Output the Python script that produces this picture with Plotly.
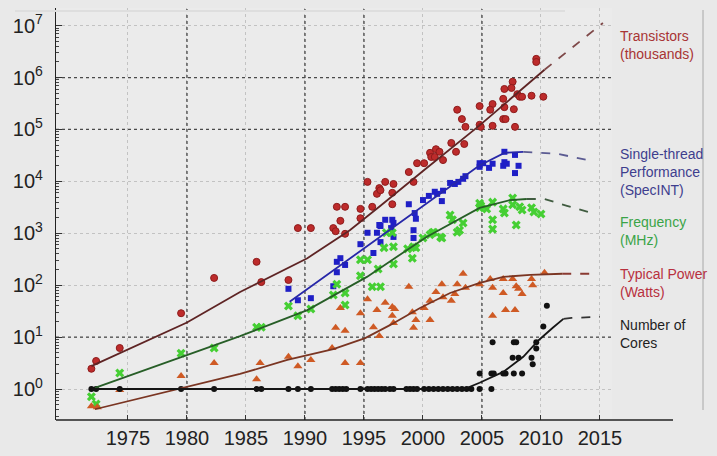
import numpy as np
import plotly.graph_objects as go

# ---------------- data (year, log10 of value) ----------------
trans_year = [1971.9, 1972.3, 1974.3, 1979.5, 1982.3, 1985.9, 1986.3, 1988.6, 1989.4, 1990.5,
              1992.4, 1992.6, 1992.7, 1993.4, 1993.0, 1993.4, 1994.7, 1994.7, 1995.3, 1995.7,
              1996.1, 1996.3, 1996.8, 1997.4, 1997.5, 1997.4, 1998.8, 1999.2, 1999.5, 2000.1,
              2000.6, 2001.1, 2000.7, 2001.0, 2001.4, 2001.7, 2002.4, 2002.8, 2002.9, 2003.3,
              2003.6, 2003.5, 2004.8, 2004.8, 2009.6, 2009.6, 2007.6, 2006.9, 2007.5, 2008.0,
              2008.2, 2008.4, 2009.2, 2010.2, 2006.8, 2005.9, 2006.9, 2005.7, 2007.7, 2006.8,
              2007.0, 2005.9, 2007.8, 2004.9, 1996.4]
trans_log10 = [0.39, 0.54, 0.79, 1.46, 2.14, 2.45, 2.06, 2.10, 3.10, 3.10,
               3.10, 3.04, 3.51, 3.51, 3.24, 2.99, 3.47, 3.29, 3.99, 3.51,
               3.76, 3.87, 3.99, 3.78, 3.95, 3.56, 4.18, 3.99, 4.35, 4.35,
               4.55, 4.62, 4.47, 4.47, 4.57, 4.41, 4.74, 4.57, 5.38, 5.20,
               5.05, 4.72, 5.45, 5.09, 6.36, 6.30, 5.92, 5.78, 5.80, 5.68,
               5.63, 5.63, 5.65, 5.63, 5.59, 5.49, 5.43, 5.38, 5.39, 5.20,
               5.20, 5.07, 5.05, 5.05, 3.83]

perf_year = [1988.6, 1989.4, 1990.5, 1992.4, 1992.7, 1992.7, 1993.0, 1993.4, 1994.7, 1995.3,
             1995.8, 1996.1, 1996.3, 1996.4, 1996.4, 1996.8, 1997.4, 1997.5, 1997.3, 1997.5,
             1999.2, 1999.2, 1999.3, 1999.4, 1998.8, 2000.0, 2000.5, 2001.0, 2001.2, 2001.7,
             2001.6, 2002.3, 2002.7, 2003.0, 2003.4, 2003.6, 2004.8, 2004.8, 2005.1, 2005.9,
             2005.6, 2006.8, 2006.9, 2006.9, 2007.1, 2007.8, 2008.1, 2007.8]
perf_log10 = [1.93, 1.71, 1.75, 1.98, 2.25, 2.45, 2.52, 2.39, 2.79, 3.01,
              2.62, 3.01, 3.16, 2.83, 3.14, 3.26, 3.26, 3.20, 3.10, 2.93,
              3.06, 2.91, 3.39, 3.28, 3.56, 3.64, 3.72, 3.80, 3.76, 3.82,
              3.62, 3.97, 3.95, 3.99, 4.05, 4.10, 4.28, 4.35, 4.35, 4.34,
              4.26, 4.30, 4.57, 4.37, 4.34, 4.51, 4.30, 4.16]

freq_year = [1971.9, 1972.3, 1974.3, 1979.5, 1982.3, 1985.9, 1986.3, 1988.6, 1989.4, 1990.5,
             1992.4, 1992.7, 1993.4, 1993.4, 1994.7, 1995.3, 1994.7, 1995.7, 1996.4, 1996.2,
             1996.7, 1997.5, 1997.5, 1998.7, 1999.1, 1999.2, 2000.0, 2000.8, 2001.5, 2002.9,
             1996.9, 1997.4, 1999.4, 2000.6, 2000.9, 2001.6, 2002.3, 2002.5, 2003.1, 2003.4,
             2004.8, 2004.8, 2004.9, 2005.4, 2005.9, 2006.8, 2006.9, 2007.6, 2007.6, 2008.2,
             2008.4, 2009.2, 2009.4, 2010.0, 2005.9, 2005.9, 2007.9]
freq_log10 = [-0.15, -0.29, 0.31, 0.69, 0.79, 1.19, 1.19, 1.60, 1.41, 1.54,
              1.81, 2.02, 1.85, 1.62, 2.49, 2.49, 2.18, 1.97, 1.97, 2.31,
              2.72, 2.74, 2.41, 2.70, 2.52, 2.74, 2.91, 3.01, 2.93, 3.02,
              3.01, 3.01, 2.72, 2.97, 3.02, 2.91, 3.35, 3.26, 3.06, 3.20,
              3.58, 3.49, 3.53, 3.47, 3.60, 3.47, 3.39, 3.68, 3.55, 3.51,
              3.45, 3.49, 3.41, 3.37, 3.26, 3.08, 3.16]

power_year = [1971.9, 1972.4, 1974.3, 1979.5, 1982.3, 1985.9, 1986.2, 1988.6, 1989.4, 1990.5,
              1992.3, 1993.0, 1992.6, 1993.4, 1993.4, 1994.7, 1994.7, 1995.3, 1996.1, 1996.3,
              1996.8, 1997.4, 1997.6, 1997.4, 1997.5, 1995.8, 1998.8, 1999.1, 1999.4, 1999.2,
              2000.1, 2000.6, 2000.6, 2001.1, 2001.6, 2001.7, 2002.4, 2002.7, 2002.9, 2003.4,
              2003.6, 2004.8, 2005.7, 2005.9, 2006.8, 2006.8, 2007.6, 2007.9, 2008.1, 2008.4,
              2009.2, 2009.3, 2010.3, 2005.9, 2007.0, 2007.8]
power_log10 = [-0.33, -0.35, -0.02, 0.25, 0.50, 0.19, 0.50, 0.62, 0.44, 0.56,
               0.79, 1.56, 1.18, 1.12, 0.50, 0.50, 1.46, 1.73, 1.52, 1.02,
               1.66, 1.58, 1.54, 1.41, 1.27, 1.19, 1.97, 1.48, 1.33, 1.18,
               1.56, 1.33, 1.70, 1.87, 2.02, 1.77, 1.70, 1.83, 2.02, 2.22,
               1.95, 2.02, 2.12, 1.95, 2.12, 1.85, 2.12, 1.98, 1.93, 1.83,
               2.12, 2.00, 2.24, 1.41, 1.52, 1.52]

core_year = [1971.9, 1972.3, 1974.3, 1979.5, 1982.3, 1985.9, 1986.3, 1988.6, 1989.4, 1990.5,
             1992.3, 1992.6, 1992.9, 1993.2, 1993.5, 1994.7, 1995.3, 1995.6, 1995.9, 1996.2,
             1996.5, 1996.8, 1997.2, 1997.5, 1998.6, 1998.9, 1999.2, 1999.5, 2000.1, 2000.5,
             2000.9, 2001.3, 2001.7, 2002.1, 2002.5, 2002.9, 2003.3, 2003.7, 2004.1, 2004.8,
             2005.8, 2004.8, 2005.8, 2006.0, 2006.8, 2007.0, 2007.7, 2008.4, 2007.6, 2008.1,
             2009.2, 2009.3, 2005.9, 2007.7, 2007.9, 2009.6, 2009.6, 2010.2, 2010.5]
core_count = [1, 1, 1, 1, 1, 1, 1, 1, 1, 1,
              1, 1, 1, 1, 1, 1, 1, 1, 1, 1,
              1, 1, 1, 1, 1, 1, 1, 1, 1, 1,
              1, 1, 1, 1, 1, 1, 1, 1, 1, 1,
              1, 2, 2, 2, 2, 2, 2, 2, 4, 4,
              4, 3, 8, 8, 8, 8, 6, 16, 40]

# ---------------- trend curves (solid) and projections (dashed) ----------------
trans_fit_year = [1971.9, 1980.0, 1984.5, 1990.2, 1993.8, 1996.4, 2000.0, 2004.75, 2010.3]
trans_fit_log10 = [0.44, 1.28, 1.87, 2.52, 3.06, 3.53, 4.20, 5.07, 6.15]
trans_proj_year = [2010.3, 2015.25]
trans_proj_log10 = [6.15, 7.05]

perf_fit_year = [1988.7, 1996.4, 2004.75, 2006.9, 2008.5]
perf_fit_log10 = [1.68, 2.93, 4.30, 4.55, 4.57]
perf_proj_year = [2008.5, 2011.4, 2014.0]
perf_proj_log10 = [4.57, 4.53, 4.41]

freq_fit_year = [1972.2, 1984.5, 1990.2, 1995.25, 2000.3, 2004.8, 2007.4, 2008.8]
freq_fit_log10 = [0.02, 1.02, 1.52, 2.16, 2.93, 3.49, 3.64, 3.66]
freq_proj_year = [2008.8, 2010.3, 2012.2, 2014.0]
freq_proj_log10 = [3.66, 3.66, 3.53, 3.41]

power_fit_year = [1972.2, 1980.0, 1984.5, 1988.5, 1992.4, 1995.1, 1997.2, 1999.75, 2002.3,
                  2004.75, 2006.8, 2009.1, 2011.8]
power_fit_log10 = [-0.39, 0.05, 0.29, 0.56, 0.77, 0.98, 1.23, 1.56, 1.85, 2.04, 2.16, 2.20, 2.22]
power_proj_year = [2011.8, 2014.8]
power_proj_log10 = [2.22, 2.22]

core_fit_year = [1971.9, 2003.5, 2004.8, 2006.8, 2008.5, 2009.8, 2011.0, 2011.9]
core_fit_log10 = [0.0, 0.0, 0.12, 0.33, 0.62, 0.94, 1.18, 1.35]
core_proj_year = [2011.9, 2012.6, 2015.0]
core_proj_log10 = [1.35, 1.37, 1.39]

# ---------------- axes / labels ----------------
x_tick_years = [1975, 1980, 1985, 1990, 1995, 2000, 2005, 2010, 2015]
y_decades = [0, 1, 2, 3, 4, 5, 6, 7]
dark_grid_years = [1980, 1990, 1995, 2005]
dark_grid_decades = [1, 5, 6]
series_labels = ["Transistors<br>(thousands)",
                 "Single-thread<br>Performance<br>(SpecINT)",
                 "Frequency<br>(MHz)",
                 "Typical Power<br>(Watts)",
                 "Number of<br>Cores"]
label_colors = ["#a83434", "#3e3e8e", "#3aa447", "#b8303e", "#1e1e1e"]
label_y_px = [45, 172, 231, 283, 334]

X_RANGE = [1968.9, 2016.02]
Y_RANGE = [-0.597, 7.34]
FONT = "Liberation Sans, Arial, sans-serif"

W, H = 717, 456
ML, MR, MT, MB = 56, 105, 8, 36
plot_w = W - ML - MR
plot_h = H - MT - MB


def p10(v):
    return np.power(10.0, np.asarray(v, dtype=float))


fig = go.Figure()

# darker dotted grid lines (the photographed slide shows some lines stronger)
for yr in dark_grid_years:
    fig.add_trace(go.Scatter(x=[yr, yr], y=p10(Y_RANGE), mode="lines",
                             line=dict(color="#4a4a4a", width=1.3, dash="dot"),
                             hoverinfo="skip", showlegend=False))
for d in dark_grid_decades:
    fig.add_trace(go.Scatter(x=X_RANGE, y=p10([d, d]), mode="lines",
                             line=dict(color="#4a4a4a", width=1.3, dash="dot"),
                             hoverinfo="skip", showlegend=False))

# markers
fig.add_trace(go.Scatter(x=trans_year, y=p10(trans_log10), mode="markers",
                         marker=dict(symbol="circle", size=7, color="#bd2b2b",
                                     line=dict(color="#8e1c1c", width=1)),
                         showlegend=False))
fig.add_trace(go.Scatter(x=perf_year, y=p10(perf_log10), mode="markers",
                         marker=dict(symbol="square", size=6, color="#1f1fc6"),
                         showlegend=False))
fig.add_trace(go.Scatter(x=freq_year, y=p10(freq_log10), mode="markers",
                         marker=dict(symbol="x", size=8, color="#45cf33"),
                         showlegend=False))
fig.add_trace(go.Scatter(x=power_year, y=p10(power_log10), mode="markers",
                         marker=dict(symbol="triangle-up", size=8, color="#cf5a24"),
                         showlegend=False))
fig.add_trace(go.Scatter(x=core_year, y=core_count, mode="markers",
                         marker=dict(symbol="circle", size=6, color="#111111"),
                         showlegend=False))

# trend curves
curves = [
    (trans_fit_year, trans_fit_log10, trans_proj_year, trans_proj_log10, "#5e2424", "#7e4848"),
    (perf_fit_year, perf_fit_log10, perf_proj_year, perf_proj_log10, "#2727a8", "#5b5b92"),
    (freq_fit_year, freq_fit_log10, freq_proj_year, freq_proj_log10, "#275e27", "#405c40"),
    (power_fit_year, power_fit_log10, power_proj_year, power_proj_log10, "#7a3522", "#8a3a32"),
    (core_fit_year, core_fit_log10, core_proj_year, core_proj_log10, "#151515", "#333333"),
]
for fx, fy, px, py, c_solid, c_dash in curves:
    fig.add_trace(go.Scatter(x=fx, y=p10(fy), mode="lines", line=dict(color=c_solid, width=1.8),
                             hoverinfo="skip", showlegend=False))
    fig.add_trace(go.Scatter(x=px, y=p10(py), mode="lines",
                             line=dict(color=c_dash, width=1.8, dash="dash"),
                             hoverinfo="skip", showlegend=False))

# series labels on the right
for txt, col, ypx in zip(series_labels, label_colors, label_y_px):
    fig.add_annotation(xref="paper", yref="paper",
                       x=(618 - ML) / plot_w, y=(H - MB - ypx) / plot_h,
                       xanchor="left", yanchor="middle", align="left",
                       text=txt, showarrow=False,
                       font=dict(family=FONT, size=14, color=col))

# bottom axis line extends past the plot area, plus slide frame lines
fig.add_shape(type="line", xref="paper", yref="paper", x0=0, x1=(673 - ML) / plot_w,
              y0=0, y1=0, line=dict(color="#222222", width=1.3))
fig.add_shape(type="line", xref="paper", yref="paper",
              x0=(703 - ML) / plot_w, x1=(703 - ML) / plot_w,
              y0=(H - MB - 410) / plot_h, y1=(H - MB - 10) / plot_h,
              line=dict(color="#a8a8a8", width=1))
fig.add_shape(type="line", xref="paper", yref="paper",
              x0=(15 - ML) / plot_w, x1=(565 - ML) / plot_w,
              y0=(H - MB - 11) / plot_h, y1=(H - MB - 11) / plot_h,
              line=dict(color="#dedede", width=2))

minor_vals = [m * 10.0 ** d for d in range(-1, 8) for m in range(2, 10)]

fig.update_layout(
    width=W, height=H,
    margin=dict(l=ML, r=MR, t=MT, b=MB, pad=0, autoexpand=False),
    paper_bgcolor="#e9e9e9",
    plot_bgcolor="#ebebeb",
    font=dict(family=FONT, color="#222222"),
    showlegend=False,
    xaxis=dict(range=X_RANGE, tickmode="array", tickvals=x_tick_years,
               ticktext=[str(v) for v in x_tick_years],
               ticks="inside", ticklen=5, tickcolor="#333333",
               showgrid=True, gridcolor="#c2c2c2", griddash="dot", gridwidth=1,
               showline=False, zeroline=False, automargin=False,
               tickfont=dict(family=FONT, size=20, color="#222222"),
               ticklabelstandoff=4),
    yaxis=dict(type="log", range=Y_RANGE, tickmode="array",
               tickvals=list(p10(y_decades)),
               ticktext=["10<sup>%d</sup>" % d for d in y_decades],
               ticks="inside", ticklen=6, tickcolor="#333333",
               minor=dict(tickmode="array", tickvals=minor_vals, ticks="inside",
                          ticklen=3, tickcolor="#444444", showgrid=False),
               showgrid=True, gridcolor="#c2c2c2", griddash="dot", gridwidth=1,
               showline=True, linecolor="#222222", linewidth=1.3,
               zeroline=False, automargin=False,
               tickfont=dict(family=FONT, size=20, color="#222222"),
               ticklabelstandoff=8),
)

# remove the browser's default 8px page margin so the figure fills the window exactly
fig.write_html("out.html",
               config={"displayModeBar": False},
               post_script="document.body.style.margin='0';document.body.style.background='#e9e9e9';")
